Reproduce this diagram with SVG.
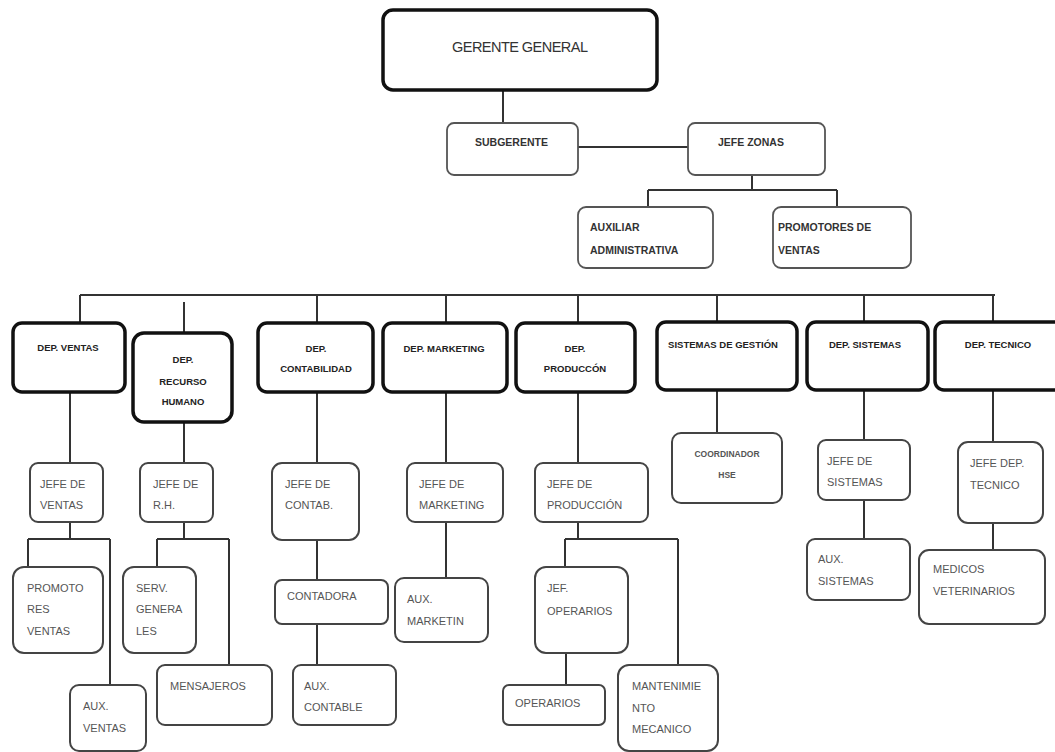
<svg xmlns="http://www.w3.org/2000/svg" width="1055" height="752" viewBox="0 0 1055 752">
<style>
.top{fill:#fff;stroke:#111;stroke-width:3.5}
.dep{fill:#fff;stroke:#111;stroke-width:3.5}
.mid{fill:#fff;stroke:#555;stroke-width:1.8}
.low{fill:#fff;stroke:#444;stroke-width:2}
.c{fill:none;stroke:#333;stroke-width:2}
text{font-family:"Liberation Sans",Arial,sans-serif}
.tg{font-size:14.5px;fill:#333}
.tb{font-size:10.5px;font-weight:bold;fill:#333}
.td{font-size:9.5px;font-weight:bold;fill:#222;text-anchor:middle}
.tl{font-size:11px;fill:#555}
.tm{text-anchor:middle}
</style>
<rect width="1055" height="752" fill="#fff"/>
<g id="connectors">
<path class="c" d="M503 90V123M578 147H688M752 175V190M648 190H837M648 190V207M837 190V207"/>
<path class="c" d="M80 295H995M80 295V323M184 302V333M317 295V323M446 295V323M578 295V323M717 295V322M864 295V322M993 295V322"/>
<path class="c" d="M70 392V463M184 422V463M317 392V463M446 392V463M578 392V463M717 390V433M864 390V440M993 390V442"/>
<path class="c" d="M70 522V539M28 539H110M28 539V567M110 539V685"/>
<path class="c" d="M184 522V539M157 539H229M157 539V567M229 539V665"/>
<path class="c" d="M317 540V580M317 624V665"/>
<path class="c" d="M446 522V578"/>
<path class="c" d="M578 522V539M565 539H678M565 539V567M678 539V665M566 653V685"/>
<path class="c" d="M864 500V539M993 523V550"/>
</g>
<g id="gerente"><rect class="top" x="383" y="10" width="274" height="80" rx="10"/><text class="tg" x="452" y="52" textLength="136">GERENTE  GENERAL</text></g>
<g id="subgerente"><rect class="mid" x="447" y="123" width="131" height="52" rx="7"/><text class="tb" x="475" y="146">SUBGERENTE</text></g>
<g id="jefe-zonas"><rect class="mid" x="688" y="123" width="137" height="52" rx="7"/><text class="tb" x="718" y="146">JEFE ZONAS</text></g>
<g id="auxiliar"><rect class="mid" x="578" y="207" width="135" height="61" rx="8"/><text class="tb" x="590" y="231">AUXILIAR</text><text class="tb" x="590" y="254">ADMINISTRATIVA</text></g>
<g id="promotores"><rect class="mid" x="773" y="207" width="138" height="61" rx="8"/><text class="tb" x="778" y="231">PROMOTORES DE</text><text class="tb" x="778" y="254">VENTAS</text></g>

<g id="dep-ventas"><rect class="dep" x="13" y="323" width="112" height="69" rx="9"/><text class="td" x="68" y="351">DEP. VENTAS</text></g>
<g id="dep-rh"><rect class="dep" x="133" y="333" width="99" height="89" rx="11"/><text class="td" x="183" y="363">DEP.</text><text class="td" x="183" y="385">RECURSO</text><text class="td" x="183" y="405">HUMANO</text></g>
<g id="dep-contabilidad"><rect class="dep" x="258" y="323" width="115" height="69" rx="9"/><text class="td" x="316" y="352">DEP.</text><text class="td" x="316" y="372">CONTABILIDAD</text></g>
<g id="dep-marketing"><rect class="dep" x="383" y="323" width="124" height="69" rx="9"/><text class="td" x="444" y="352">DEP. MARKETING</text></g>
<g id="dep-produccion"><rect class="dep" x="516" y="323" width="119" height="69" rx="9"/><text class="td" x="575" y="352">DEP.</text><text class="td" x="575" y="372">PRODUCCÓN</text></g>
<g id="sistemas-gestion"><rect class="dep" x="657" y="322" width="140" height="68" rx="9"/><text class="td" x="723" y="348">SISTEMAS DE GESTIÓN</text></g>
<g id="dep-sistemas"><rect class="dep" x="807" y="322" width="121" height="68" rx="9"/><text class="td" x="865" y="348">DEP. SISTEMAS</text></g>
<g id="dep-tecnico"><rect class="dep" x="935" y="322" width="128" height="68" rx="9"/><text class="td" x="998" y="348">DEP. TECNICO</text></g>

<g id="jefe-ventas"><rect class="low" x="30" y="463" width="73" height="59" rx="8"/><text class="tl" x="40" y="488">JEFE DE</text><text class="tl" x="40" y="509">VENTAS</text></g>
<g id="jefe-rh"><rect class="low" x="140" y="463" width="73" height="59" rx="8"/><text class="tl" x="153" y="488">JEFE DE</text><text class="tl" x="153" y="509">R.H.</text></g>
<g id="jefe-contab"><rect class="low" x="272" y="463" width="87" height="77" rx="10"/><text class="tl" x="285" y="488">JEFE DE</text><text class="tl" x="285" y="509">CONTAB.</text></g>
<g id="jefe-marketing"><rect class="low" x="407" y="463" width="96" height="59" rx="8"/><text class="tl" x="419" y="488">JEFE DE</text><text class="tl" x="419" y="509">MARKETING</text></g>
<g id="jefe-produccion"><rect class="low" x="535" y="463" width="113" height="59" rx="8"/><text class="tl" x="547" y="488">JEFE DE</text><text class="tl" x="547" y="509">PRODUCCIÓN</text></g>
<g id="coordinador-hse"><rect class="low" x="672" y="433" width="110" height="70" rx="9"/><text class="tl tm" x="727" y="457" style="font-size:8.5px;font-weight:bold">COORDINADOR</text><text class="tl tm" x="727" y="478" style="font-size:8.5px;font-weight:bold">HSE</text></g>
<g id="jefe-sistemas"><rect class="low" x="818" y="440" width="92" height="60" rx="8"/><text class="tl" x="827" y="465">JEFE DE</text><text class="tl" x="827" y="486">SISTEMAS</text></g>
<g id="jefe-tecnico"><rect class="low" x="958" y="442" width="85" height="81" rx="10"/><text class="tl" x="970" y="467">JEFE DEP.</text><text class="tl" x="970" y="489">TECNICO</text></g>

<g id="promotores-ventas"><rect class="low" x="13" y="567" width="90" height="86" rx="11"/><text class="tl" x="27" y="592">PROMOTO</text><text class="tl" x="27" y="613">RES</text><text class="tl" x="27" y="635">VENTAS</text></g>
<g id="aux-ventas"><rect class="low" x="70" y="685" width="76" height="66" rx="9"/><text class="tl" x="83" y="710">AUX.</text><text class="tl" x="83" y="732">VENTAS</text></g>
<g id="serv-generales"><rect class="low" x="123" y="567" width="73" height="86" rx="11"/><text class="tl" x="136" y="592">SERV.</text><text class="tl" x="136" y="613">GENERA</text><text class="tl" x="136" y="635">LES</text></g>
<g id="mensajeros"><rect class="low" x="157" y="665" width="115" height="60" rx="8"/><text class="tl" x="170" y="690">MENSAJEROS</text></g>
<g id="contadora"><rect class="low" x="275" y="580" width="113" height="44" rx="7"/><text class="tl" x="287" y="600">CONTADORA</text></g>
<g id="aux-contable"><rect class="low" x="293" y="665" width="103" height="60" rx="8"/><text class="tl" x="304" y="690">AUX.</text><text class="tl" x="304" y="711">CONTABLE</text></g>
<g id="aux-marketin"><rect class="low" x="395" y="578" width="93" height="64" rx="9"/><text class="tl" x="407" y="603">AUX.</text><text class="tl" x="407" y="625">MARKETIN</text></g>
<g id="jef-operarios"><rect class="low" x="535" y="567" width="93" height="86" rx="11"/><text class="tl" x="547" y="592">JEF.</text><text class="tl" x="547" y="615">OPERARIOS</text></g>
<g id="operarios"><rect class="low" x="503" y="685" width="102" height="40" rx="6"/><text class="tl" x="515" y="707">OPERARIOS</text></g>
<g id="mantenimiento"><rect class="low" x="618" y="665" width="100" height="86" rx="11"/><text class="tl" x="632" y="690">MANTENIMIE</text><text class="tl" x="632" y="712">NTO</text><text class="tl" x="632" y="733">MECANICO</text></g>
<g id="aux-sistemas"><rect class="low" x="807" y="539" width="103" height="61" rx="8"/><text class="tl" x="818" y="563">AUX.</text><text class="tl" x="818" y="585">SISTEMAS</text></g>
<g id="medicos"><rect class="low" x="919" y="550" width="126" height="74" rx="10"/><text class="tl" x="933" y="573">MEDICOS</text><text class="tl" x="933" y="595">VETERINARIOS</text></g>
</svg>
